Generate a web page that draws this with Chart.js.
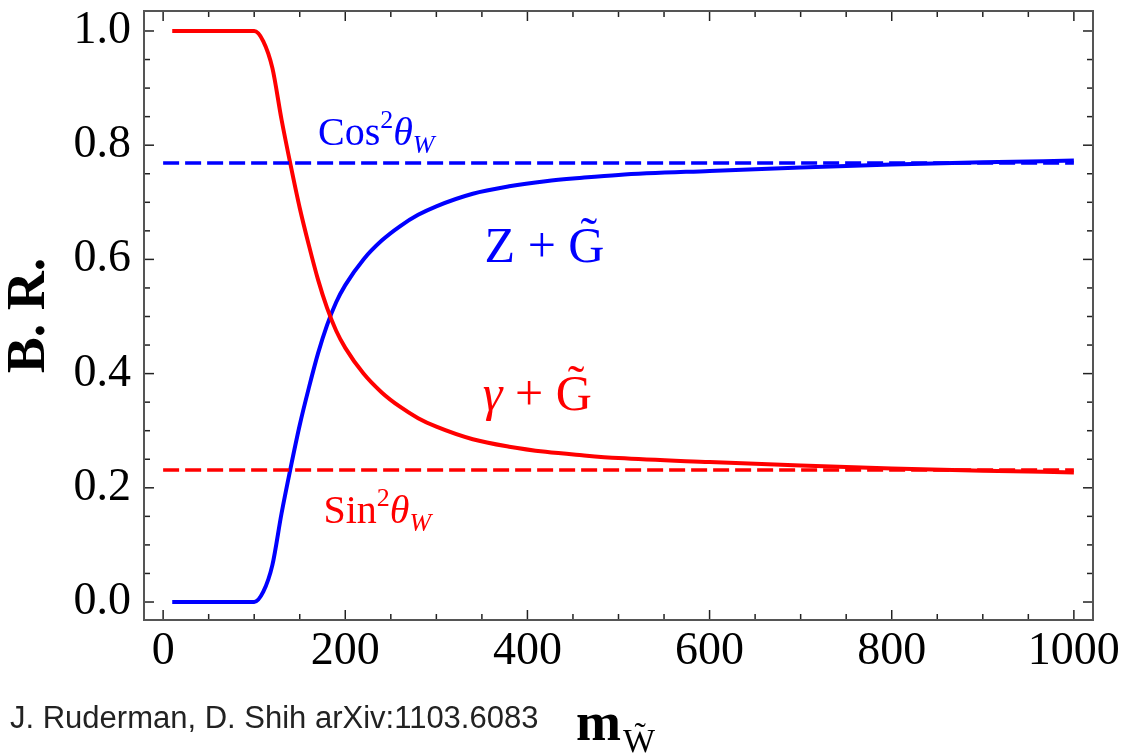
<!DOCTYPE html>
<html>
<head>
<meta charset="utf-8">
<script src="https://cdn.jsdelivr.net/npm/chart.js@4.4.1/dist/chart.umd.min.js"></script>
<style>
  html, body { margin: 0; padding: 0; background: #fff; }
  #wrap { position: relative; width: 1128px; height: 755px; overflow: hidden; }
  #cite { position: absolute; left: 10px; top: 700px; font: 31px "Liberation Sans", Arial, sans-serif; color: #222; white-space: nowrap; }
</style>
</head>
<body>
<div id="wrap">
  <canvas id="brChart" width="1128" height="755"></canvas>
  <div id="cite">J. Ruderman, D. Shih arXiv:1103.6083</div>
</div>
<script>
// wino mass (GeV) and branching ratios into photon / Z + gravitino
const masses   = [10, 100, 110, 120, 130, 140, 150, 160, 170, 180, 190, 200, 220, 240, 260, 280, 300, 340, 380, 420, 460, 500, 600, 700, 800, 900, 1000];
const photonBR = [1.0, 1.0, 0.982, 0.935, 0.845, 0.765, 0.69, 0.625, 0.565, 0.515, 0.475, 0.445, 0.40, 0.367, 0.342, 0.322, 0.307, 0.285, 0.272, 0.263, 0.257, 0.252, 0.245, 0.239, 0.234, 0.230, 0.227];
const zBR      = [0.0, 0.0, 0.018, 0.065, 0.155, 0.235, 0.31, 0.375, 0.435, 0.485, 0.525, 0.555, 0.60, 0.633, 0.658, 0.678, 0.693, 0.715, 0.728, 0.737, 0.743, 0.748, 0.755, 0.761, 0.766, 0.770, 0.773];

// asymptotic values
const sin2W = 0.231;
const cos2W = 0.769;
const limitRange = [0, 1000];

const xTicks = [0, 200, 400, 600, 800, 1000];
const yTicks = [0.0, 0.2, 0.4, 0.6, 0.8, 1.0];

const RED = '#ff0000';
const BLUE = '#0000ff';
const SERIF = '"Liberation Serif", "DejaVu Serif", serif';

const pts = (xs, ys) => xs.map((x, i) => ({ x, y: ys[i] }));
const flat = (v) => limitRange.map(x => ({ x, y: v }));

// inward tick marks + frame, Mathematica style
const frameTicks = {
    id: 'frameTicks',
    afterDraw(chart) {
        const { ctx, chartArea: a, scales: { x, y } } = chart;
        ctx.save();
        ctx.strokeStyle = '#222';
        ctx.lineWidth = 1.5;
        const seg = (x1, y1, x2, y2) => {
            ctx.beginPath(); ctx.moveTo(x1, y1); ctx.lineTo(x2, y2); ctx.stroke();
        };
        for (let v = 0; v <= 1000; v += 50) {
            const px = x.getPixelForValue(v);
            const len = v % 200 === 0 ? 10 : 6;
            seg(px, a.bottom, px, a.bottom - len);
            seg(px, a.top, px, a.top + len);
        }
        for (let i = 0; i <= 20; i++) {
            const v = i * 0.05;
            const py = y.getPixelForValue(v);
            const len = i % 4 === 0 ? 10 : 6;
            seg(a.left, py, a.left + len, py);
            seg(a.right, py, a.right - len, py);
        }
        ctx.strokeStyle = '#555';
        ctx.lineWidth = 2;
        ctx.strokeRect(a.left, a.top, a.width, a.height);
        ctx.restore();
    }
};

// text made of pieces: normal, italic, super/subscripts
const drawRuns = (ctx, x, y, runs, color) => {
    ctx.fillStyle = color;
    ctx.textBaseline = 'alphabetic';
    ctx.textAlign = 'left';
    let cx = x;
    runs.forEach(r => {
        ctx.font = `${r.style || ''} ${r.weight || ''} ${r.size}px ${SERIF}`;
        ctx.fillText(r.t, cx, y + (r.dy || 0));
        cx += ctx.measureText(r.t).width + (r.gap || 0);
    });
    return cx - x;
};

const curveLabels = {
    id: 'curveLabels',
    afterDatasetsDraw(chart) {
        const { ctx, scales: { x, y } } = chart;
        ctx.save();
        drawRuns(ctx, x.getPixelForValue(170), y.getPixelForValue(0.80), [
            { t: 'Cos', size: 40 },
            { t: '2', size: 26, dy: -17 },
            { t: 'θ', size: 40, style: 'italic' },
            { t: 'W', size: 26, style: 'italic', dy: 8 }
        ], BLUE);
        drawRuns(ctx, x.getPixelForValue(176), y.getPixelForValue(0.138), [
            { t: 'Sin', size: 40 },
            { t: '2', size: 26, dy: -17 },
            { t: 'θ', size: 40, style: 'italic' },
            { t: 'W', size: 26, style: 'italic', dy: 8 }
        ], RED);
        drawRuns(ctx, x.getPixelForValue(353), y.getPixelForValue(0.595), [
            { t: 'Z + G\u0303', size: 50 }
        ], BLUE);
        drawRuns(ctx, x.getPixelForValue(351), y.getPixelForValue(0.336), [
            { t: 'γ', size: 50, style: 'italic' },
            { t: ' + G\u0303', size: 50 }
        ], RED);

        // axis title with subscript
        const cxm = (chart.chartArea.left + chart.chartArea.right) / 2;
        ctx.font = `bold 54px ${SERIF}`;
        const mw = ctx.measureText('m').width;
        ctx.font = `34px ${SERIF}`;
        const sw = ctx.measureText('W\u0303').width;
        drawRuns(ctx, cxm - (mw + sw) / 2 - 4, 740, [
            { t: 'm', size: 54, weight: 'bold', gap: 2 },
            { t: 'W\u0303', size: 34, dy: 12 }
        ], '#000');
        ctx.restore();
    }
};

const lineSet = (data, color, extra) => Object.assign({
    data, borderColor: color, backgroundColor: color, showLine: true,
    pointRadius: 0, fill: false
}, extra);

new Chart('brChart', {
    type: 'scatter',
    data: {
        datasets: [
            lineSet(flat(cos2W), BLUE, { borderWidth: 3.5, borderDash: [16, 6] }),
            lineSet(flat(sin2W), RED, { borderWidth: 3.5, borderDash: [16, 6] }),
            lineSet(pts(masses, photonBR), RED, { borderWidth: 4, cubicInterpolationMode: 'monotone' }),
            lineSet(pts(masses, zBR), BLUE, { borderWidth: 4, cubicInterpolationMode: 'monotone' })
        ]
    },
    options: {
        responsive: false,
        animation: false,
        layout: { padding: { top: 11, right: 35, bottom: 0, left: 0 } },
        plugins: { legend: { display: false }, tooltip: { enabled: false } },
        scales: {
            x: {
                type: 'linear', min: -21, max: 1021,
                afterBuildTicks: s => { s.ticks = xTicks.map(v => ({ value: v })); },
                afterFit: s => { s.height = 135; s.paddingLeft = 0; s.paddingRight = 0; },
                grid: { display: false, drawTicks: false },
                border: { display: false },
                ticks: { color: '#000', padding: 4, maxRotation: 0, callback: v => String(v), font: { family: SERIF, size: 46 } }
            },
            y: {
                type: 'linear', min: -0.0315, max: 1.035,
                afterBuildTicks: s => { s.ticks = yTicks.map(v => ({ value: v })); },
                afterFit: s => { s.width = 144; s.paddingTop = 0; s.paddingBottom = 0; },
                grid: { display: false, drawTicks: false },
                border: { display: false },
                ticks: { color: '#000', padding: 13, callback: v => v.toFixed(1), font: { family: SERIF, size: 46 } },
                title: {
                    display: true, text: 'B. R.', color: '#000',
                    padding: { top: 0, bottom: 0 },
                    font: { family: SERIF, size: 54, weight: 'bold', lineHeight: 1.1 }
                }
            }
        }
    },
    plugins: [frameTicks, curveLabels]
});
</script>
</body>
</html>
